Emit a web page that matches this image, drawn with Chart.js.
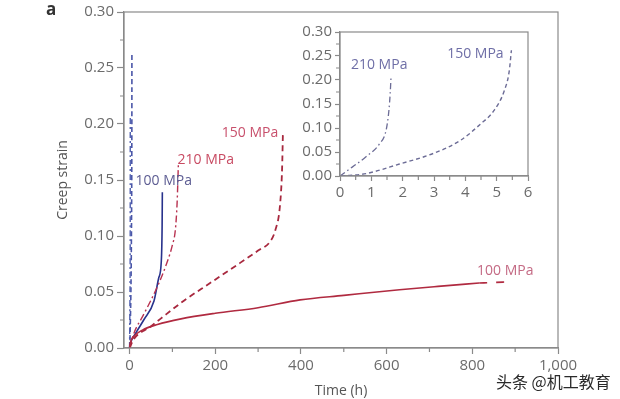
<!DOCTYPE html>
<html><head><meta charset="utf-8">
<script src="https://cdn.jsdelivr.net/npm/chart.js@4"></script>
<style>
html,body{margin:0;padding:0;background:#fff;}
#wrap{position:relative;width:620px;height:399px;overflow:hidden;background:#fff;}
#main{position:absolute;left:0;top:0;}
#inset{position:absolute;left:290px;top:20px;}
#panel{position:absolute;left:46px;top:-3px;font:bold 17px "Open Sans",sans-serif;color:#333;}
#wm{position:absolute;left:496px;top:369px;font:16px "Noto Sans CJK SC",sans-serif;color:#2a2a2a;text-shadow:0 0 2px #fff,0 0 2px #fff;}
</style></head><body>
<div id="wrap">
<canvas id="main" width="620" height="399"></canvas>
<canvas id="inset" width="250" height="195"></canvas>
<div id="panel">a</div>
<div id="wm">头条 @机工教育</div>
</div>
<script>
// ---- tick values ----
const xTicks = [0, 200, 400, 600, 800, 1000];
const xMinor = [100, 300, 500, 700, 900];
const yTicks = [0, 0.05, 0.10, 0.15, 0.20, 0.25, 0.30];
const yMinor = [0.025, 0.075, 0.125, 0.175, 0.225, 0.275];
const insetXTicks = [0, 1, 2, 3, 4, 5, 6];
const insetXMinor = [0.5, 1.5, 2.5, 3.5, 4.5, 5.5];
const insetYTicks = [0, 0.05, 0.10, 0.15, 0.20, 0.25, 0.30];
const insetYMinor = [0.025, 0.075, 0.125, 0.175, 0.225, 0.275];

// ---- main series: time (h) and creep strain ----
const tRed100 = [0, 2, 9, 30, 65, 120, 200, 300, 398, 500, 630, 720, 816];
const eRed100 = [0, 0.005, 0.01, 0.016, 0.021, 0.026, 0.031, 0.036, 0.043, 0.047, 0.052, 0.055, 0.058];
const tRed100Tail = [816, 850, 881];
const eRed100Tail = [0.058, 0.0585, 0.059];
const tRed150 = [0, 10, 49, 72, 126, 188, 258, 300, 328, 340, 351, 356, 358];
const eRed150 = [0, 0.008, 0.019, 0.026, 0.042, 0.058, 0.076, 0.087, 0.095, 0.105, 0.127, 0.16, 0.193];
const tRed210 = [0, 10, 33, 64, 88, 100, 107, 111, 114];
const eRed210 = [0, 0.013, 0.030, 0.054, 0.077, 0.092, 0.106, 0.13, 0.165];
const tBlue100 = [0, 2, 14, 33, 57, 68, 74, 76, 76.5];
const eBlue100 = [0, 0.004, 0.013, 0.025, 0.042, 0.0625, 0.077, 0.11, 0.139];

// ---- short-time blue series (shown in main and inset) ----
const tBlue210 = [0, 0.40, 0.83, 1.26, 1.47, 1.56, 1.60, 1.63];
const eBlue210 = [0, 0.019, 0.040, 0.067, 0.095, 0.136, 0.17, 0.208];
const tBlue150 = [0.04, 0.83, 1.9, 2.98, 3.84, 4.48, 4.91, 5.24, 5.40, 5.47];
const eBlue150 = [0, 0.005, 0.025, 0.047, 0.074, 0.108, 0.136, 0.177, 0.218, 0.262];

const pts = (t, e) => t.map((x, i) => ({x, y: e[i]}));

const TICK_FONT = {family: '"Open Sans", sans-serif', size: 15};
const TICK_COLOR = '#6b6b6b';
const FRAME = '#8a8a8a';

function decoPlugin(minX, minY, labels) {
  return {
    id: 'deco',
    afterDatasetsDraw(chart) {
      const {ctx, chartArea: a, scales: {x, y}} = chart;
      ctx.save();
      ctx.strokeStyle = FRAME;
      ctx.lineWidth = 1.2;
      ctx.strokeRect(a.left, a.top, a.right - a.left, a.bottom - a.top);
      ctx.beginPath();
      minX.forEach(v => { const p = x.getPixelForValue(v); ctx.moveTo(p, a.bottom); ctx.lineTo(p, a.bottom + 4); });
      minY.forEach(v => { const p = y.getPixelForValue(v); ctx.moveTo(a.left - 4, p); ctx.lineTo(a.left, p); });
      ctx.stroke();
      ctx.font = '14px "Open Sans", sans-serif';
      ctx.textBaseline = 'middle';
      labels.forEach(l => {
        ctx.fillStyle = l.color;
        ctx.textAlign = l.align || 'left';
        ctx.fillText(l.text, x.getPixelForValue(l.x), y.getPixelForValue(l.y));
      });
      ctx.restore();
    }
  };
}

function axisOpts(ticksArr, min, max, fmt, tickLen, fitFn) {
  return {
    type: 'linear', min, max,
    afterBuildTicks: s => { s.ticks = ticksArr.map(v => ({value: v})); },
    afterFit: fitFn,
    grid: {drawOnChartArea: false, drawTicks: true, tickLength: tickLen, tickColor: FRAME, tickWidth: 1.2},
    border: {display: true, color: FRAME, width: 1.2},
    ticks: {font: TICK_FONT, color: TICK_COLOR, padding: 3, callback: fmt, maxRotation: 0, autoSkip: false}
  };
}

const mainLabels = [
  {text: '150 MPa', x: 347, y: 0.192, color: '#c8506c', align: 'right'},
  {text: '210 MPa', x: 112, y: 0.1675, color: '#c84a62'},
  {text: '100 MPa', x: 14, y: 0.149, color: '#5c5c92'},
  {text: '100 MPa', x: 811, y: 0.069, color: '#c46a84'}
];

new Chart(document.getElementById('main'), {
  type: 'line',
  data: {
    datasets: [
      {data: pts(tRed100, eRed100), borderColor: '#b02a40', borderWidth: 1.6},
      {data: pts(tRed100Tail, eRed100Tail), borderColor: '#b02a40', borderWidth: 1.6, borderDash: [8, 9]},
      {data: pts(tRed150, eRed150), borderColor: '#a8283e', borderWidth: 1.8, borderDash: [6, 4]},
      {data: pts(tRed210, eRed210), borderColor: '#b83250', borderWidth: 1.4, borderDash: [7, 3, 2, 3]},
      {data: pts(tBlue100, eBlue100), borderColor: '#28328c', borderWidth: 1.6},
      {data: pts(tBlue210, eBlue210), borderColor: '#5060b0', borderWidth: 1.4, borderDash: [6, 3, 2, 3]},
      {data: pts(tBlue150, eBlue150), borderColor: '#4a56a8', borderWidth: 1.6, borderDash: [5, 3]}
    ]
  },
  options: {
    responsive: false, animation: false,
    layout: {padding: {left: 0, top: 7, right: 62, bottom: 0}, autoPadding: false},
    elements: {point: {radius: 0}, line: {cubicInterpolationMode: 'monotone', fill: false}},
    plugins: {legend: {display: false}, tooltip: {enabled: false}},
    scales: {
      x: Object.assign(axisOpts(xTicks, -13, 1000, v => v.toLocaleString('en-US'), 6, s => { s.height = 51; }), {
        title: {display: true, text: 'Time (h)', color: '#555', font: {family: '"Open Sans", sans-serif', size: 14}, padding: {top: 0, bottom: 0}}
      }),
      y: Object.assign(axisOpts(yTicks, 0, 0.30, v => v.toFixed(2), 7, s => { s.width = 124; }), {
        title: {display: true, text: 'Creep strain', color: '#555', font: {family: '"Open Sans", sans-serif', size: 14}, padding: {top: 55, bottom: 0}}
      })
    }
  },
  plugins: [decoPlugin(xMinor, yMinor, mainLabels)]
});

const insetLabels = [
  {text: '210 MPa', x: 0.35, y: 0.232, color: '#6e6ea6'},
  {text: '150 MPa', x: 3.42, y: 0.255, color: '#6e6ea6'}
];

new Chart(document.getElementById('inset'), {
  type: 'line',
  data: {
    datasets: [
      {data: pts(tBlue210, eBlue210), borderColor: '#6c6c96', borderWidth: 1.3, borderDash: [6, 3, 1.5, 3]},
      {data: pts(tBlue150, eBlue150), borderColor: '#6c6c96', borderWidth: 1.4, borderDash: [4, 3]}
    ]
  },
  options: {
    responsive: false, animation: false,
    layout: {padding: {left: 0, top: 9, right: 12, bottom: 0}, autoPadding: false},
    elements: {point: {radius: 0}, line: {cubicInterpolationMode: 'monotone', fill: false}},
    plugins: {legend: {display: false}, tooltip: {enabled: false}},
    scales: {
      x: axisOpts(insetXTicks, 0, 6, v => String(v), 5, s => { s.height = 39; }),
      y: axisOpts(insetYTicks, 0, 0.30, v => v.toFixed(2), 5, s => { s.width = 50; })
    }
  },
  plugins: [decoPlugin(insetXMinor, insetYMinor, insetLabels)]
});
</script>
</body></html>
